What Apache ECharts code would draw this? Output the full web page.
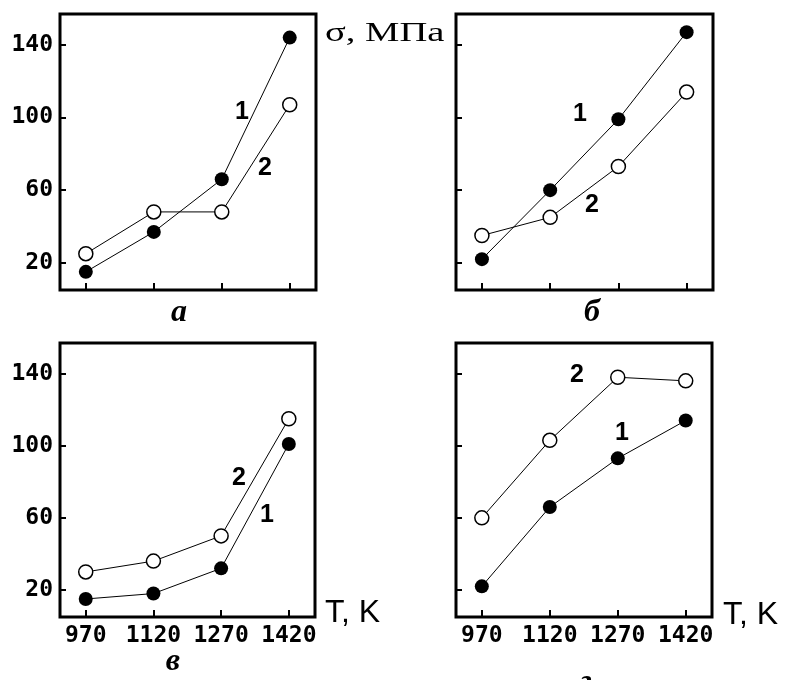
<!DOCTYPE html>
<html>
<head>
<meta charset="utf-8">
<script src="https://cdn.jsdelivr.net/npm/echarts@6/dist/echarts.min.js"></script>
<style>
  html, body { margin: 0; padding: 0; background: #fff; }
  #chart { width: 787px; height: 680px; }
</style>
</head>
<body>
<div id="chart"></div>
<script>
// температура, К
var temps = [970, 1120, 1270, 1420];
var yTicks = [20, 60, 100, 140];

// σ, МПа: кривая 1 (тёмные точки) и кривая 2 (светлые точки)
var a1 = [15, 37, 66, 144];
var a2 = [25, 48, 48, 107];
var b1 = [22, 60, 99, 147];
var b2 = [35, 45, 73, 114];
var v1 = [15, 18, 32, 101];
var v2 = [30, 36, 50, 115];
var g1 = [22, 66, 93, 114];
var g2 = [60, 103, 138, 136];

var panelNames = ['а', 'б', 'в', 'г'];
var curves = [[a1, a2], [b1, b2], [v1, v2], [g1, g2]];

var chart = echarts.init(document.getElementById('chart'), null, { renderer: 'canvas' });

var grids = [
    { left: 60, top: 14, width: 256, height: 276 },
    { left: 456, top: 14, width: 257, height: 276 },
    { left: 60, top: 343, width: 255, height: 274 },
    { left: 456, top: 343, width: 256, height: 274 }
];

var xAxes = [], yAxes = [], series = [];
for (let i = 0; i < 4; i++) {
    grids[i].show = true;
    grids[i].borderColor = '#000';
    grids[i].borderWidth = 3;
    grids[i].containLabel = false;

    xAxes.push({
        type: 'value',
        gridIndex: i,
        min: 913,
        max: 1478,
        axisLine: { show: false },
        splitLine: { show: false },
        axisTick: { show: true, inside: true, length: 7, customValues: temps, lineStyle: { color: '#000', width: 2 } },
        axisLabel: {
            show: i >= 2,
            customValues: temps,
            formatter: function (v) { return String(v); },
            margin: 8,
            color: '#000',
            fontFamily: 'DejaVu Sans Mono',
            fontWeight: 'bold',
            fontSize: 23
        }
    });
    yAxes.push({
        type: 'value',
        gridIndex: i,
        min: 5,
        max: 157,
        axisLine: { show: false },
        splitLine: { show: false },
        axisTick: { show: true, inside: true, length: 6, customValues: yTicks, lineStyle: { color: '#000', width: 2 } },
        axisLabel: {
            show: i % 2 === 0,
            customValues: yTicks,
            formatter: function (v) { return String(v); },
            margin: 7,
            color: '#000',
            fontFamily: 'DejaVu Sans Mono',
            fontWeight: 'bold',
            fontSize: 23
        }
    });

    for (let k = 0; k < 2; k++) {
        var vals = curves[i][k];
        var pts = [];
        for (let j = 0; j < temps.length; j++) {
            pts.push([temps[j], vals[j]]);
        }
        series.push({
            name: panelNames[i] + (k + 1),
            type: 'line',
            xAxisIndex: i,
            yAxisIndex: i,
            data: pts,
            symbol: 'circle',
            symbolSize: 14,
            z: k === 0 ? 3 : 4,
            lineStyle: { color: '#000', width: 1 },
            itemStyle: k === 0
                ? { color: '#000' }
                : { color: '#fff', borderColor: '#000', borderWidth: 1.5 },
            emphasis: { disabled: true }
        });
    }
}

// подписи на рисунке
function txt(x, y, text, font) {
    return {
        type: 'text',
        x: x,
        y: y,
        style: { text: text, font: font, fill: '#000', align: 'center', verticalAlign: 'middle' }
    };
}

var numFont = 'bold 25px "Liberation Sans"';
var letterFont = 'italic bold 32px "Liberation Serif"';
var axisFont = '32px "Liberation Sans"';

var graphics = [
    { type: 'text', x: 325, y: 34, scaleX: 1.43,
      style: { text: 'σ, МПа', font: '27px "Liberation Serif"', fill: '#000', align: 'left', verticalAlign: 'middle' } },
    { type: 'text', x: 325, y: 613,
      style: { text: 'T, K', font: axisFont, fill: '#000', align: 'left', verticalAlign: 'middle' } },
    { type: 'text', x: 723, y: 615,
      style: { text: 'T, K', font: axisFont, fill: '#000', align: 'left', verticalAlign: 'middle' } },

    txt(242, 112, '1', numFont), txt(265, 168, '2', numFont),
    txt(580, 114, '1', numFont), txt(592, 205, '2', numFont),
    txt(267, 515, '1', numFont), txt(239, 478, '2', numFont),
    txt(622, 433, '1', numFont), txt(577, 375, '2', numFont),

    txt(179, 313, panelNames[0], letterFont),
    txt(592, 313, panelNames[1], letterFont),
    txt(173, 662, panelNames[2], letterFont),
    txt(586, 683, panelNames[3], letterFont)
];

var option = {
    backgroundColor: '#fff',
    animation: false,
    grid: grids,
    xAxis: xAxes,
    yAxis: yAxes,
    series: series,
    graphic: graphics
};

chart.setOption(option);
</script>
</body>
</html>
